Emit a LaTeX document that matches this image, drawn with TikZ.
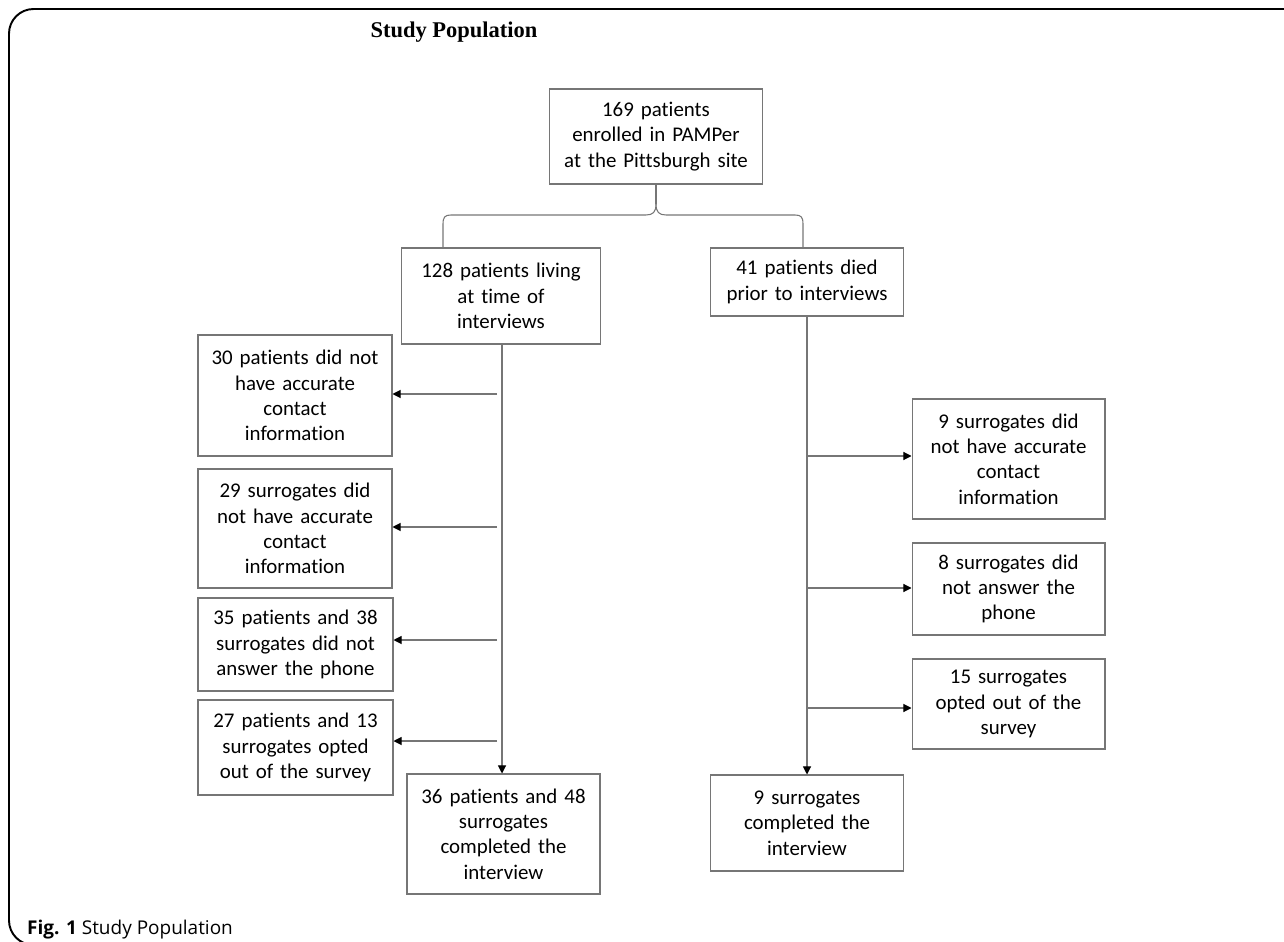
\documentclass[tikz,border=0pt]{standalone}
\usepackage{fontspec}
\setmainfont{Carlito}[Ligatures=CommonOff]
\newfontfamily\titlefont{Liberation Serif}
\newfontfamily\capfont{Open Sans}
\usetikzlibrary{arrows.meta}
\definecolor{linegray}{RGB}{118,118,118}
\begin{document}
\begin{tikzpicture}[x=0.02cm,y=-0.02cm,
    box/.style={draw=linegray,line width=0.6pt,align=center,inner sep=0pt,
      font=\fontsize{11.9}{14.4}\selectfont},
    wire/.style={draw=linegray,line width=0.6pt},
    arr/.style={wire,-{Triangle[length=4.6pt,width=4.6pt,color=black]}}]
    \useasboundingbox (0,0) rectangle (1284,942);
    \draw[line width=1.1pt,rounded corners=14] (1300,9) -- (9,9) -- (9,945) -- (1300,945);
    \node[font=\titlefont\fontsize{12.8}{15}\selectfont\bfseries] (title) at (454,32) {Study Population};
    \node[anchor=west,font=\capfont\fontsize{10.8}{13}\selectfont] (cap) at (21,930) {\textbf{Fig. 1} Study Population};
    \node[box,text width=4.26cm,minimum height=1.9cm] (pop) at (656,136.5) {169 patients\\enrolled in PAMPer\\at the Pittsburgh site};
    \node[box,text width=3.98cm,minimum height=1.92cm] (alive) at (501,296) {128 patients living\\at time of\\interviews};
    \node[box,text width=3.86cm,minimum height=1.36cm] (died) at (807,282) {41 patients died\\prior to interviews};
    \node[box,text width=3.88cm,minimum height=2.42cm] (l30) at (295,395.5) {30 patients did not\\have accurate\\contact\\information};
    \node[box,text width=3.88cm,minimum height=2.38cm] (l29) at (295,528.5) {29 surrogates did\\not have accurate\\contact\\information};
    \node[box,text width=3.9cm,minimum height=1.86cm] (l35) at (295.5,644.5) {35 patients and 38\\surrogates did not\\answer the phone};
    \node[box,text width=3.9cm,minimum height=1.9cm] (l27) at (295.5,747.5) {27 patients and 13\\surrogates opted\\out of the survey};
    \node[box,text width=3.86cm,minimum height=2.4cm] (l36) at (503.5,834) {36 patients and 48\\surrogates\\completed the\\interview};
    \node[box,text width=3.86cm,minimum height=2.4cm] (r9) at (1008.5,459) {9 surrogates did\\not have accurate\\contact\\information};
    \node[box,text width=3.86cm,minimum height=1.84cm] (r8) at (1008.5,589) {8 surrogates did\\not answer the\\phone};
    \node[box,text width=3.86cm,minimum height=1.8cm] (r15) at (1008.5,704) {15 surrogates\\opted out of the\\survey};
    \node[box,text width=3.86cm,minimum height=1.92cm] (r9c) at (807,823) {9 surrogates\\completed the\\interview};
    \coordinate (tip) at (656,204);
    \coordinate (bl) at (443,247);
    \coordinate (br) at (803,247);
    \draw[wire] (pop) -- (tip);
    \draw[wire] (tip) .. controls (656,212) and (653,215) .. (646,215) -- (451,215)
      .. controls (445,215) and (443,217) .. (443,224) -- (bl);
    \draw[wire] (tip) .. controls (656,212) and (659,215) .. (666,215) -- (795,215)
      .. controls (801,215) and (803,217) .. (803,224) -- (br);
    \coordinate (lt) at (502,344);
    \draw[arr] (lt) -- (lt |- l36.north);
    \coordinate (a1) at (497,394);
    \coordinate (a2) at (497,527);
    \coordinate (a3) at (497,640);
    \coordinate (a4) at (497,741);
    \draw[arr] (a1) -- (a1 -| l30.east);
    \draw[arr] (a2) -- (a2 -| l29.east);
    \draw[arr] (a3) -- (a3 -| l35.east);
    \draw[arr] (a4) -- (a4 -| l27.east);
    \draw[arr] (died) -- (r9c);
    \coordinate (b1) at (807,456);
    \coordinate (b2) at (807,588);
    \coordinate (b3) at (807,708);
    \draw[arr] (b1) -- (b1 -| r9.west);
    \draw[arr] (b2) -- (b2 -| r8.west);
    \draw[arr] (b3) -- (b3 -| r15.west);
  \end{tikzpicture}
\end{document}
